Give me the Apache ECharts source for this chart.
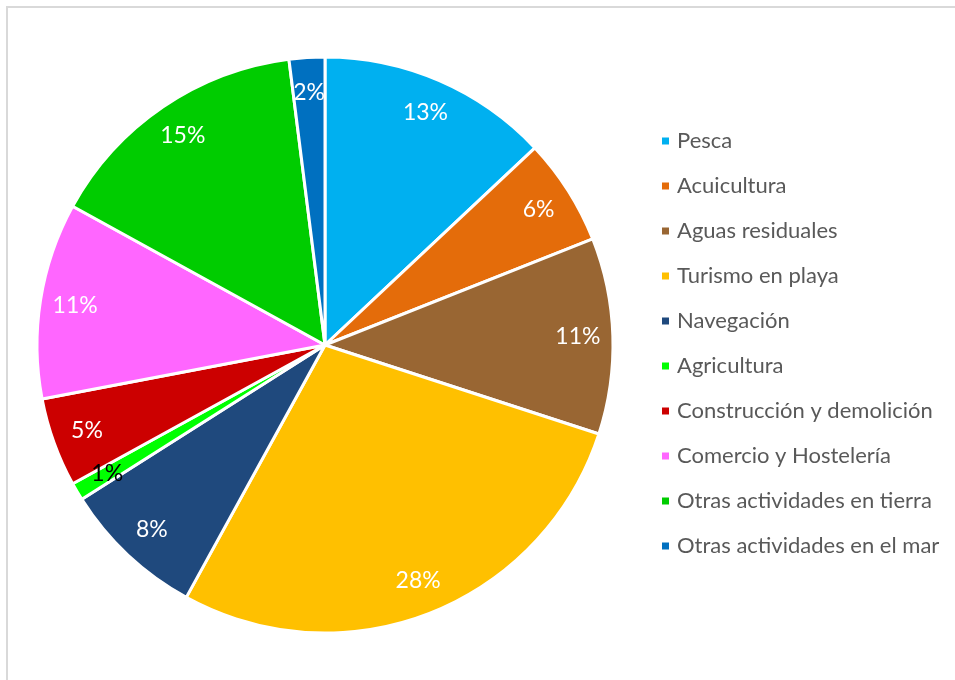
<!DOCTYPE html>
<html>
<head>
<meta charset="utf-8">
<script src="https://cdn.jsdelivr.net/npm/echarts@6/dist/echarts.min.js"></script>
<style>
  html, body { margin: 0; padding: 0; background: #fff; }
  #chart { width: 955px; height: 680px; }
</style>
</head>
<body>
<div id="chart"></div>
<script>
// Shares by activity (percent), clockwise from 12 o'clock
const categories = [
  'Pesca', 'Acuicultura', 'Aguas residuales', 'Turismo en playa', 'Navegación',
  'Agricultura', 'Construcción y demolición', 'Comercio y Hostelería',
  'Otras actividades en tierra', 'Otras actividades en el mar'
];
const shares = [13, 6, 11, 28, 8, 1, 5, 11, 15, 2];
const sliceColors = [
  '#00B0F0', '#E46C0A', '#996633', '#FFC000', '#1F497D',
  '#00FF00', '#CC0000', '#FF66FF', '#00CC00', '#0070C0'
];
const labelColors = ['#fff', '#fff', '#fff', '#fff', '#fff', '#000', '#fff', '#fff', '#fff', '#fff'];

const FONT = 'Lato';
const center = [325, 345];
const R = 288;

const sliceData = categories.map((name, i) => ({
  name, value: shares[i], itemStyle: { color: sliceColors[i] }
}));
const labelData = categories.map((name, i) => ({
  name, value: shares[i],
  label: { color: labelColors[i] }
}));

const chart = echarts.init(document.getElementById('chart'), null, { renderer: 'canvas' });
chart.setOption({
  animation: false,
  backgroundColor: '#fff',
  graphic: [{
    type: 'rect',
    shape: { x: 7, y: 7, width: 1000, height: 1000 },
    style: { fill: 'none', stroke: '#d9d9d9', lineWidth: 2 },
    silent: true
  }],
  legend: {
    orient: 'vertical',
    left: 655,
    top: 124,
    icon: 'rect',
    itemWidth: 9,
    itemHeight: 9,
    itemGap: 21,
    data: categories,
    textStyle: {
      fontFamily: FONT,
      fontSize: 22,
      color: '#595959',
      lineHeight: 24,
      padding: [0, 0, 0, 2]
    }
  },
  series: [
    {
      type: 'pie',
      center: center,
      radius: [0, R],
      startAngle: 90,
      clockwise: true,
      avoidLabelOverlap: false,
      label: { show: false },
      labelLine: { show: false },
      itemStyle: { borderColor: '#fff', borderWidth: 3 },
      emphasis: { disabled: true },
      data: sliceData
    },
    {
      // transparent ring used only to place the percentage labels
      type: 'pie',
      center: center,
      radius: [212, R],
      startAngle: 90,
      clockwise: true,
      silent: true,
      legendHoverLink: false,
      avoidLabelOverlap: false,
      itemStyle: { color: 'rgba(0,0,0,0)', borderWidth: 0 },
      label: {
        show: true,
        position: 'inside',
        formatter: p => p.value + '%',
        fontFamily: FONT,
        fontSize: 23,
        color: '#fff'
      },
      labelLine: { show: false },
      emphasis: { disabled: true },
      data: labelData
    }
  ]
});
</script>
</body>
</html>
